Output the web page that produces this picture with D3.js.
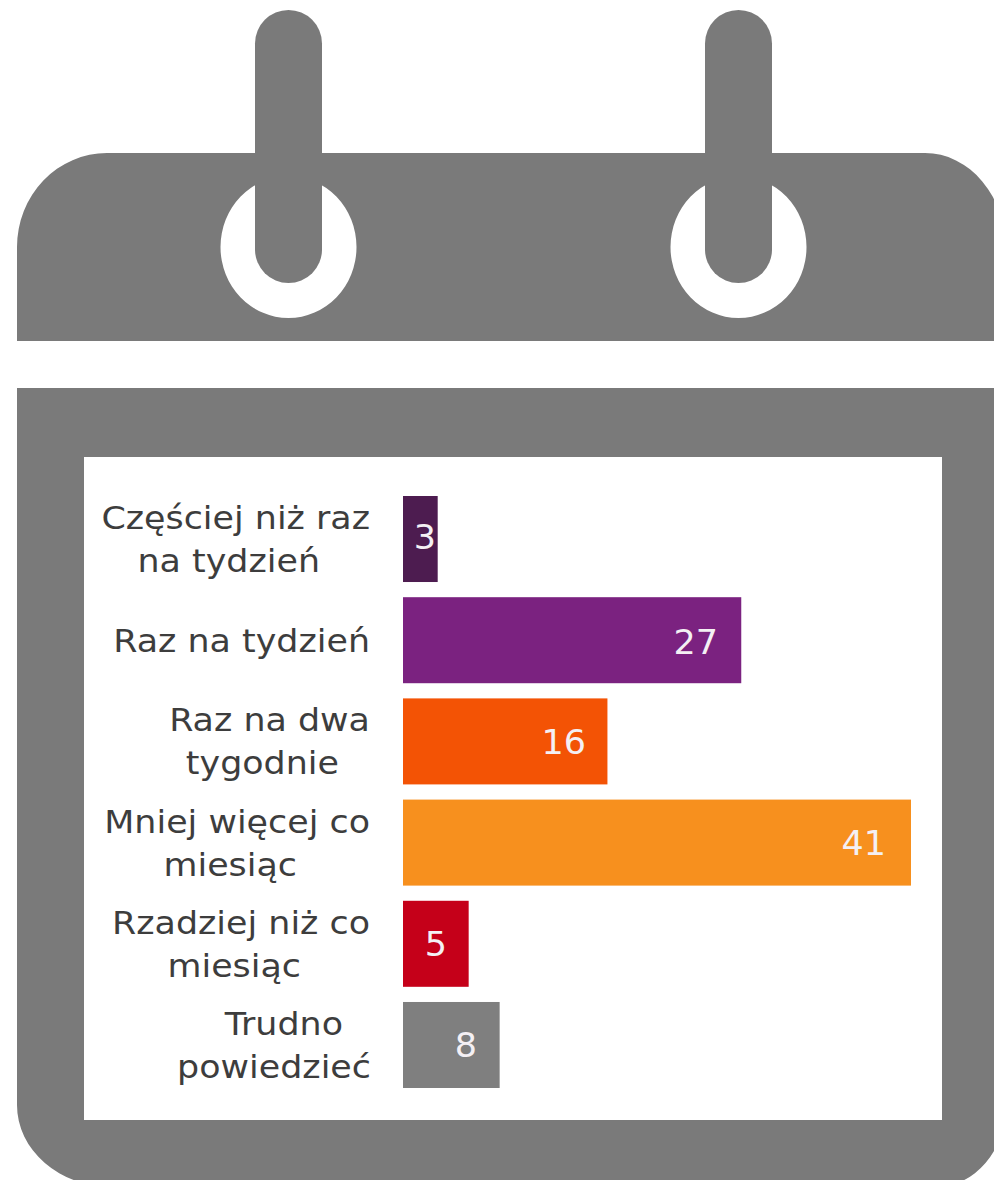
<!DOCTYPE html>
<html><head><meta charset="utf-8">
<script src="https://cdn.jsdelivr.net/npm/d3@7"></script>
<style>html,body{margin:0;padding:0;background:#fff;overflow:hidden}svg{display:block}text{font-family:"DejaVu Sans",sans-serif}</style>
</head><body><svg id="c" width="994" height="1180"></svg>
<script>
const categories=[["Częściej niż raz","na tydzień"],["Raz na tydzień"],["Raz na dwa","tygodnie"],["Mniej więcej co","miesiąc"],["Rzadziej niż co","miesiąc"],["Trudno","powiedzieć"]];
const barLengths=[2.8,27.3,16.5,41,5.3,7.8];
const valueLabels=["3","27","16","41","5","8"];
const colors=["#4d1c50","#7b2280","#f35305","#f7901e","#c50019","#7f7f7f"];
const labelRight=[[370,320],[370],[370,339],[370,297],[370,301],[343,371]];
const valueRight=[436,718,586,886,447,477];
const valueShift=[-2,2,1,0,0,0];

const svg=d3.select("#c");
const gray="#7a7a7a";
const x=d3.scaleLinear().domain([0,41]).range([403,911]);
const y=d3.scaleBand().domain(d3.range(6)).range([496,1088]).paddingInner(0.15);

// calendar icon
let headPath="M17,341 L17,247 A90,94 0 0 1 107,153 L925,153 A81,97 0 0 1 1006,250 L1006,341 Z";
[288.5,738.5].forEach(c=>{headPath+=` M${c-68},247 A68,71 0 1 1 ${c+68},247 A68,71 0 1 1 ${c-68},247 Z`;});
svg.append("path").attr("d",headPath).attr("fill",gray).attr("fill-rule","evenodd");
[288.5,738.5].forEach(c=>svg.append("rect").attr("x",c-33.5).attr("y",10).attr("width",67).attr("height",273).attr("rx",33.5).attr("fill",gray));
const bodyPath="M17,388 L1006,388 L1006,1105 A70,82 0 0 1 936,1187 L112,1187 A95,82 0 0 1 17,1105 Z M84,457 L84,1120 L942,1120 L942,457 Z";
svg.append("path").attr("d",bodyPath).attr("fill",gray).attr("fill-rule","evenodd");

// bars
svg.selectAll("rect.bar").data(barLengths).join("rect").attr("class","bar")
 .attr("x",x(0)).attr("y",(d,i)=>y(i)).attr("width",d=>x(d)-x(0)).attr("height",y.bandwidth()).attr("fill",(d,i)=>colors[i]);
svg.selectAll("text.val").data(valueLabels).join("text").attr("class","val")
 .attr("transform",(d,i)=>`translate(${valueRight[i]},${y(i)+y.bandwidth()/2+12+valueShift[i]}) scale(1.06,1)`).attr("text-anchor","end")
 .attr("font-size",33).attr("fill","#f4f0f4").text(d=>d);
// category labels
categories.forEach((lines,i)=>{
 const cy=y(i)+y.bandwidth()/2;
 lines.forEach((l,j)=>{
  const ly=cy+12+(lines.length>1?(j===0?-22:21):0);
  svg.append("text").attr("transform",`translate(${labelRight[i][j]},${ly}) scale(1.09,1)`)
   .attr("text-anchor","end").attr("font-size",32).attr("fill","#3d3d3d").text(l);
 });
});
</script></body></html>
